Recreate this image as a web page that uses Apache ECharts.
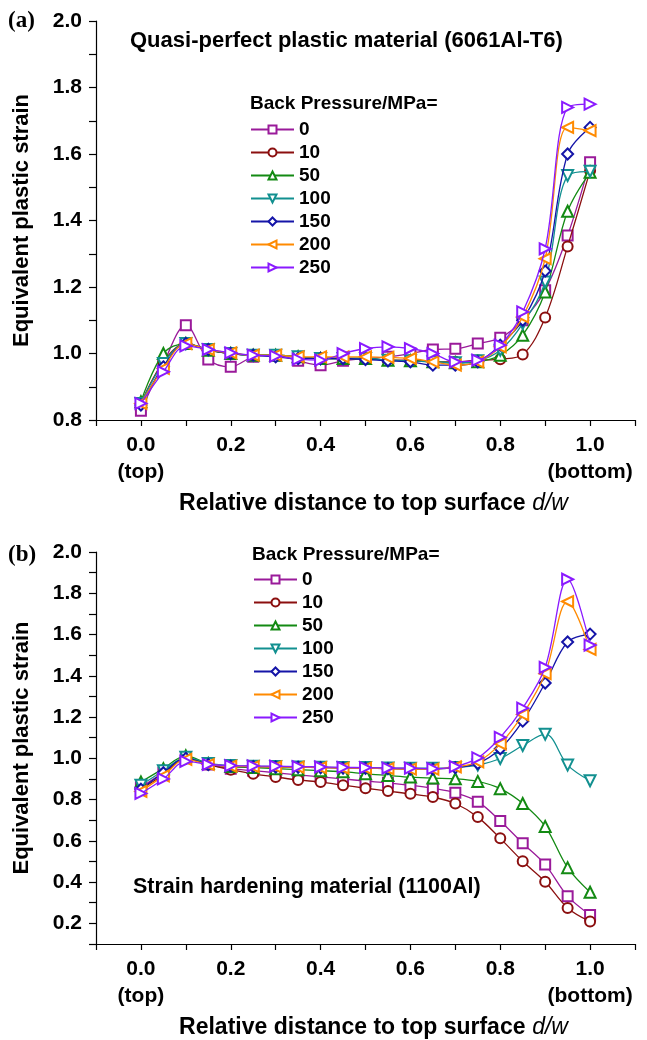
<!DOCTYPE html>
<html><head><meta charset="utf-8">
<script src="https://cdn.jsdelivr.net/npm/echarts@6/dist/echarts.min.js"></script>
<style>html,body{margin:0;padding:0;background:#fff}#c{width:647px;height:1040px}</style>
</head><body><div id="c"></div>
<script>
const xs = [0,0.05,0.1,0.15,0.2,0.25,0.3,0.35,0.4,0.45,0.5,0.55,0.6,0.65,0.7,0.75,0.8,0.85,0.9,0.95,1.0];
const seriesNames = ['0','10','50','100','150','200','250'];
const xTickLabels = ['0.0','0.2','0.4','0.6','0.8','1.0'];
const xTickSub = ['(top)','','','','','(bottom)'];
const yTickLabelsA = ['0.8','1.0','1.2','1.4','1.6','1.8','2.0'];
const yTickLabelsB = ['0.2','0.4','0.6','0.8','1.0','1.2','1.4','1.6','1.8','2.0'];

// panel (a) Quasi-perfect plastic material
const a0   = [0.828,0.97,1.085,0.982,0.96,0.99,0.995,0.978,0.965,0.978,0.985,0.99,1.0,1.012,1.014,1.03,1.047,1.10,1.19,1.355,1.575];
const a10  = [0.85,0.975,1.03,1.01,1.0,0.995,0.995,0.99,0.985,0.985,0.985,0.98,0.98,0.975,0.975,0.98,0.983,0.997,1.108,1.322,1.55];
const a50  = [0.855,1.0,1.03,1.01,1.0,0.995,0.995,0.99,0.985,0.985,0.985,0.98,0.978,0.975,0.972,0.975,0.995,1.055,1.185,1.428,1.545];
const a100 = [0.85,0.97,1.03,1.012,1.0,0.995,0.995,0.99,0.985,0.985,0.985,0.98,0.978,0.975,0.972,0.978,1.01,1.09,1.215,1.535,1.548];
const a150 = [0.845,0.96,1.03,1.012,1.0,0.995,0.99,0.985,0.985,0.985,0.982,0.978,0.975,0.965,0.965,0.975,1.025,1.10,1.248,1.60,1.68];
const a200 = [0.85,0.955,1.03,1.012,1.002,0.995,0.995,0.99,0.99,0.99,0.99,0.988,0.985,0.975,0.965,0.975,1.02,1.11,1.285,1.68,1.67];
const a250 = [0.85,0.945,1.023,1.012,1.002,0.995,0.992,0.983,0.98,1.0,1.015,1.02,1.015,1.0,0.975,0.98,1.025,1.125,1.315,1.74,1.75];

// panel (b) Strain hardening material
const b0   = [0.86,0.93,1.0,0.97,0.95,0.94,0.93,0.92,0.91,0.90,0.89,0.881,0.869,0.854,0.833,0.79,0.696,0.588,0.485,0.332,0.241];
const b10  = [0.85,0.92,1.0,0.97,0.945,0.925,0.91,0.895,0.885,0.87,0.855,0.841,0.828,0.812,0.781,0.715,0.612,0.501,0.402,0.275,0.209];
const b50  = [0.885,0.95,1.012,0.975,0.96,0.955,0.95,0.945,0.94,0.935,0.925,0.917,0.909,0.904,0.901,0.888,0.853,0.781,0.67,0.47,0.351];
const b100 = [0.87,0.94,1.005,0.975,0.965,0.962,0.96,0.958,0.957,0.955,0.955,0.953,0.952,0.952,0.955,0.967,0.999,1.062,1.117,0.967,0.891];
const b150 = [0.85,0.93,1.0,0.97,0.962,0.96,0.958,0.957,0.955,0.953,0.952,0.95,0.948,0.948,0.955,0.975,1.046,1.18,1.365,1.564,1.602];
const b200 = [0.84,0.915,0.995,0.97,0.962,0.96,0.958,0.957,0.955,0.953,0.952,0.95,0.948,0.948,0.958,0.983,1.07,1.212,1.41,1.76,1.528];
const b250 = [0.83,0.9,0.985,0.97,0.965,0.963,0.962,0.96,0.958,0.956,0.955,0.953,0.952,0.95,0.96,1.002,1.101,1.243,1.441,1.868,1.549];

const panelA = [a0,a10,a50,a100,a150,a200,a250];
const panelB = [b0,b10,b50,b100,b150,b200,b250];

const colors = ['#9a1a9a','#8b0f0f','#138a13','#129090','#1515a8','#ff8a00','#8a1aff'];
const symbols = ['emptyRect','emptyCircle','emptyTriangle','emptyTriangle','emptyDiamond','emptyTriangle','emptyTriangle'];
const rotates = [0,0,0,180,0,90,-90];
const sizes = [10,10,11,11,11,11,11];

const FONT = 'Liberation Sans, Arial, sans-serif';
const chart = echarts.init(document.getElementById('c'), null, {renderer:'canvas'});

function xAxisCfg(gi) {
  return {
    gridIndex: gi, type:'value', min:-0.1, max:1.1, interval:0.1,
    axisLine:{show:true, onZero:false, lineStyle:{color:'#000', width:1.2}},
    axisTick:{show:true, inside:false, length:6, lineStyle:{color:'#000', width:1.2}},
    splitLine:{show:false},
    axisLabel:{
      margin:12, color:'#000', fontFamily:FONT, fontWeight:'bold', fontSize:21, lineHeight:27,
      formatter: function(v){
        const k = Math.round(v*10);
        if (k < 0 || k > 10 || k % 2 !== 0) return '';
        const i = k/2;
        return xTickSub[i] ? xTickLabels[i] + '\n' + xTickSub[i] : xTickLabels[i];
      }
    },
    name: '{b|Relative distance to top surface}  {i|d/w}',
    nameLocation:'middle', nameGap:72,
    nameTextStyle:{ padding:[0,0,0,16],
      rich:{ b:{fontFamily:FONT, fontWeight:'bold', fontSize:23, color:'#000'},
             i:{fontFamily:FONT, fontStyle:'italic', fontSize:23, color:'#000'} } }
  };
}
function yAxisCfg(gi, min, labels) {
  return {
    gridIndex: gi, type:'value', min:min, max:2.0, interval:0.1,
    axisLine:{show:true, onZero:false, lineStyle:{color:'#000', width:1.2}},
    axisTick:{show:true, inside:false, length:7, lineStyle:{color:'#000', width:1.2}},
    splitLine:{show:false},
    axisLabel:{
      margin:14, color:'#000', fontFamily:FONT, fontWeight:'bold', fontSize:21,
      formatter: function(v){
        const k = Math.round(v*10);
        if (k % 2 !== 0) return '';
        const first = Math.round(parseFloat(labels[0])*10);
        const i = (k - first)/2;
        return (i >= 0 && i < labels.length) ? labels[i] : '';
      }
    },
    name:'Equivalent plastic strain', nameLocation:'middle', nameGap:63,
    nameTextStyle:{fontFamily:FONT, fontWeight:'bold', fontSize:22, color:'#000'}
  };
}

const series = [];
[panelA, panelB].forEach(function(panel, gi){
  panel.forEach(function(vals, si){
    series.push({
      name: seriesNames[si], type:'line', xAxisIndex:gi, yAxisIndex:gi,
      data: xs.map(function(x, j){ return [x, vals[j]]; }),
      smooth:0.35, symbol:symbols[si], symbolRotate:rotates[si], symbolSize:sizes[si],
      lineStyle:{color:colors[si], width:1.3},
      itemStyle:{color:colors[si], borderWidth:1.2},
      z: 2 + si
    });
  });
});

function legendCfg(left, top) {
  return {
    orient:'vertical', left:left, top:top, itemWidth:43, itemHeight:10, itemGap:4,
    data: seriesNames, selectedMode:false,
    textStyle:{fontFamily:FONT, fontWeight:'bold', fontSize:19, color:'#000', lineHeight:16}
  };
}

chart.setOption({
  animation:false,
  backgroundColor:'#fff',
  grid:[{left:96, top:21, width:539, height:399},{left:96, top:552, width:539, height:401}],
  xAxis:[xAxisCfg(0), xAxisCfg(1)],
  yAxis:[yAxisCfg(0, 0.8, yTickLabelsA), yAxisCfg(1, 0.1, yTickLabelsB)],
  legend:[legendCfg(245, 115), legendCfg(248, 565)],
  title:[
    {text:'(a)', left:3, top:5, textStyle:{fontFamily:'Liberation Serif, serif', fontWeight:'bold', fontSize:23, color:'#000'}},
    {text:'(b)', left:3, top:539, textStyle:{fontFamily:'Liberation Serif, serif', fontWeight:'bold', fontSize:23, color:'#000'}},
    {text:'Quasi-perfect plastic material (6061Al-T6)', left:125, top:25, textStyle:{fontFamily:FONT, fontWeight:'bold', fontSize:22, color:'#000'}},
    {text:'Back Pressure/MPa=', left:245, top:89, textStyle:{fontFamily:FONT, fontWeight:'bold', fontSize:19, color:'#000'}},
    {text:'Back Pressure/MPa=', left:247, top:540, textStyle:{fontFamily:FONT, fontWeight:'bold', fontSize:19, color:'#000'}},
    {text:'Strain hardening material (1100Al)', left:128, top:871, textStyle:{fontFamily:FONT, fontWeight:'bold', fontSize:21.5, color:'#000'}}
  ],
  series: series
});
</script></body></html>
